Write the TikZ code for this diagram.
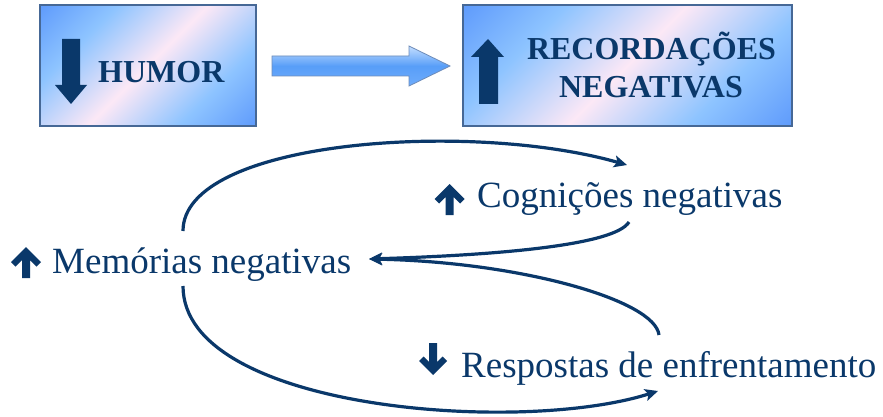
\documentclass[tikz,border=0pt]{standalone}
\usepackage{fontspec}
\setmainfont{Liberation Serif}
\usetikzlibrary{arrows.meta}
\definecolor{navy}{RGB}{10,56,106}
\definecolor{deepblue}{RGB}{96,156,252}
\definecolor{lightblue}{RGB}{142,196,255}
\definecolor{pinkw}{RGB}{252,232,246}
\definecolor{boxborder}{RGB}{70,104,150}
\definecolor{arrtop}{RGB}{196,222,255}
\definecolor{arrmid}{RGB}{88,158,248}
\definecolor{arrbot}{RGB}{110,172,252}
\definecolor{arrborder}{RGB}{110,140,185}
\pgfdeclareverticalshading{boxshade}{100bp}{color(0bp)=(deepblue); color(15bp)=(deepblue); color(31bp)=(lightblue); color(50bp)=(pinkw); color(69bp)=(lightblue); color(85bp)=(deepblue); color(100bp)=(deepblue)}
\tikzset{
  box/.style={draw=boxborder, line width=1.2pt, shade, shading=boxshade, shading angle=45, inner sep=0pt},
  boxtext/.style={font=\bfseries\fontsize{32}{38}\selectfont, text=navy, inner sep=0pt},
  itemtext/.style={font=\fontsize{37}{44}\selectfont, text=navy, inner sep=0pt, anchor=base west},
  conn/.style={draw=navy, line width=3.2pt, -{Stealth[length=13pt,width=12pt,inset=3pt]}},
  upsym/.pic={\fill[navy] (0,0) -- (15,15) -- (10.5,19.5) -- (4,13) -- (4,31) -- (-4,31) -- (-4,13) -- (-10.5,19.5) -- (-15,15) -- cycle;},
  downsym/.pic={\fill[navy] (0,0) -- (14,-14) -- (9.5,-18.5) -- (4,-13) -- (4,-32) -- (-4,-32) -- (-4,-13) -- (-9.5,-18.5) -- (-14,-14) -- cycle;}
}
\begin{document}
\begin{tikzpicture}[x=1pt,y=-1pt]
\fill[white] (0,0) rectangle (883,417);
\useasboundingbox (0,0) rectangle (883,417);
% boxes
\node[box, minimum width=216pt, minimum height=121pt] (humorbox) at (148,65.5) {};
\node[box, minimum width=329pt, minimum height=121pt] (recbox) at (627.5,65.5) {};
% big arrows inside boxes
\fill[navy] (62,39) -- (80,39) -- (80,85) -- (87,85) -- (71,104) -- (55,85) -- (62,85) -- cycle;
\fill[navy] (479,104) -- (498,104) -- (498,57) -- (504,57) -- (488,39) -- (471,57) -- (479,57) -- cycle;
\node[boxtext, anchor=base west] (humor) at (98,83) {HUMOR};
\node[boxtext, anchor=base] (rec1) at (651.5,60) {RECORDAÇÕES};
\node[boxtext, anchor=base] (rec2) at (651,98) {NEGATIVAS};
% block arrow
\draw[draw=arrborder, line width=0.8pt, top color=arrtop, bottom color=arrbot, middle color=arrmid]
  (272,56) -- (409,56) -- (409,46) -- (450,66) -- (409,86) -- (409,76) -- (272,76) -- cycle;
% items
\pic at (26,247) {upsym};
\node[itemtext] (mem) at (52,273) {Memórias negativas};
\pic at (449.5,184) {upsym};
\node[itemtext] (cog) at (477,207) {Cognições negativas};
\pic at (433,375) {downsym};
\node[itemtext] (resp) at (461,377) {Respostas de enfrentamento};
% connector ends
\coordinate (m1) at (183,231);
\coordinate (m2) at (183,286);
\coordinate (c1) at (627,165);
\coordinate (c2) at (629,222);
\coordinate (r1) at (659,335);
\coordinate (r2) at (658,391);
\coordinate (mt) at (369,259);
\draw[conn] (m1) .. controls (183,140) and (470,120) .. (c1);
\draw[conn] (c2) .. controls (615,245) and (500,255) .. (mt);
\draw[conn] (r1) .. controls (655,300) and (520,262) .. (mt);
\draw[conn] (m2) .. controls (183,410) and (520,435) .. (r2);
\end{tikzpicture}
\end{document}
